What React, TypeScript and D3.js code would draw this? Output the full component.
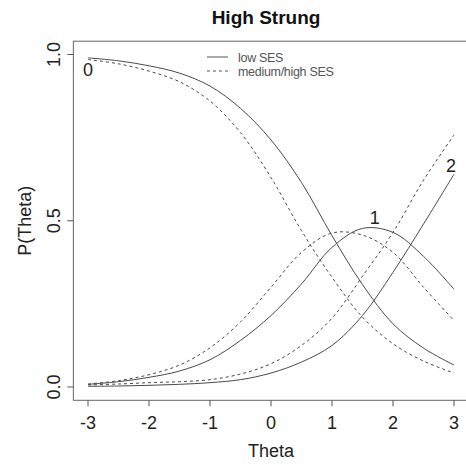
import React from 'react';
import * as d3 from 'd3';

// theta grid the curves were read at
const theta = [-3, -2.5, -2, -1.5, -1, -0.5, 0, 0.5, 1, 1.5, 2, 2.5, 3];

// low SES (solid)
const lowP0 = [0.99, 0.981, 0.966, 0.944, 0.905, 0.838, 0.743, 0.615, 0.455, 0.308, 0.19, 0.117, 0.066];
const lowP1 = [0.008, 0.016, 0.029, 0.048, 0.082, 0.14, 0.215, 0.31, 0.42, 0.477, 0.465, 0.393, 0.294];
const lowP2 = [0.002, 0.003, 0.005, 0.008, 0.013, 0.022, 0.042, 0.075, 0.125, 0.215, 0.345, 0.49, 0.64];

// medium/high SES (dashed)
const midP0 = [0.985, 0.972, 0.95, 0.918, 0.86, 0.765, 0.63, 0.47, 0.33, 0.21, 0.13, 0.078, 0.042];
const midP1 = [0.009, 0.019, 0.037, 0.066, 0.118, 0.196, 0.3, 0.405, 0.463, 0.457, 0.405, 0.3, 0.2];
const midP2 = [0.006, 0.009, 0.013, 0.016, 0.022, 0.039, 0.07, 0.125, 0.207, 0.333, 0.465, 0.622, 0.758];

const xTicks = [-3, -2, -1, 0, 1, 2, 3];
const yTicks = [0, 0.5, 1];
const yTickLabels = ['0.0', '0.5', '1.0'];

// category labels placed at (theta, P)
const catLabels = ['0', '1', '2'];
const catTheta = [-3, 1.7, 2.95];
const catP = [0.955, 0.51, 0.665];

const legendLabels = ['low SES', 'medium/high SES'];
const legendDash = ['none', '3,3'];

const W = 466;
const H = 465;
const font = '"Liberation Sans", Arial, sans-serif';

export default function App() {
  const x = d3.scaleLinear().domain([-3, 3]).range([88, 454]);
  const y = d3.scaleLinear().domain([0, 1]).range([387, 54.5]);

  const [x0, x1] = x.domain().map((d, i) => x(d + (i ? 0.24 : -0.24)));
  const yTop = y(1.04);
  const yBot = y(-0.04);

  const line = d3
    .line<number>()
    .x((_, i) => x(theta[i]))
    .y((d) => y(d))
    .curve(d3.curveCatmullRom.alpha(0.5));

  const series = [
    { vals: lowP0, dash: 'none' },
    { vals: lowP1, dash: 'none' },
    { vals: lowP2, dash: 'none' },
    { vals: midP0, dash: '3,3' },
    { vals: midP1, dash: '3,3' },
    { vals: midP2, dash: '3,3' },
  ];

  return (
    <svg
      width={W}
      height={H}
      style={{ position: 'absolute', left: 0, top: 0, background: '#fff' }}
      fontFamily={font}
    >
      <rect width={W} height={H} fill="#fff" />
      <text x={266} y={24} textAnchor="middle" fontSize={19} fontWeight="bold" fill="#111">
        High Strung
      </text>

      {/* plot box */}
      <rect x={x0} y={yTop} width={x1 - x0} height={yBot - yTop} fill="none" stroke="#666" />

      {/* x axis */}
      <g>
        {xTicks.map((t) => (
          <g key={t}>
            <line x1={x(t)} x2={x(t)} y1={yBot} y2={yBot + 6} stroke="#555" />
            <text x={x(t)} y={429} textAnchor="middle" fontSize={18} fill="#222">
              {t < 0 ? '-' + Math.abs(t) : t}
            </text>
          </g>
        ))}
        <text x={x(0)} y={457} textAnchor="middle" fontSize={18} fill="#222">
          Theta
        </text>
      </g>

      {/* y axis */}
      <g>
        {yTicks.map((t, i) => (
          <g key={t}>
            <line x1={x0} x2={x0 - 6} y1={y(t)} y2={y(t)} stroke="#555" />
            <text
              transform={`translate(59.5,${y(t)}) rotate(-90)`}
              textAnchor="middle"
              fontSize={18}
              fill="#222"
            >
              {yTickLabels[i]}
            </text>
          </g>
        ))}
        <text
          transform={`translate(31,${y(0.5)}) rotate(-90)`}
          textAnchor="middle"
          fontSize={18}
          fill="#222"
        >
          P(Theta)
        </text>
      </g>

      {/* curves */}
      {series.map((s, i) => (
        <path
          key={i}
          d={line(s.vals) || ''}
          fill="none"
          stroke="#4a4a4a"
          strokeWidth={1}
          strokeDasharray={s.dash}
        />
      ))}

      {catLabels.map((c, i) => (
        <text
          key={c}
          x={x(catTheta[i])}
          y={y(catP[i]) + 6.5}
          textAnchor="middle"
          fontSize={18}
          fill="#222"
        >
          {c}
        </text>
      ))}

      {/* legend */}
      {legendLabels.map((l, i) => (
        <g key={l}>
          <line
            x1={207}
            x2={228}
            y1={57 + i * 14}
            y2={57 + i * 14}
            stroke="#555"
            strokeDasharray={legendDash[i]}
          />
          <text x={238} y={62 + i * 14} fontSize={12.5} fill="#555" letterSpacing={-0.3}>
            {l}
          </text>
        </g>
      ))}
    </svg>
  );
}
